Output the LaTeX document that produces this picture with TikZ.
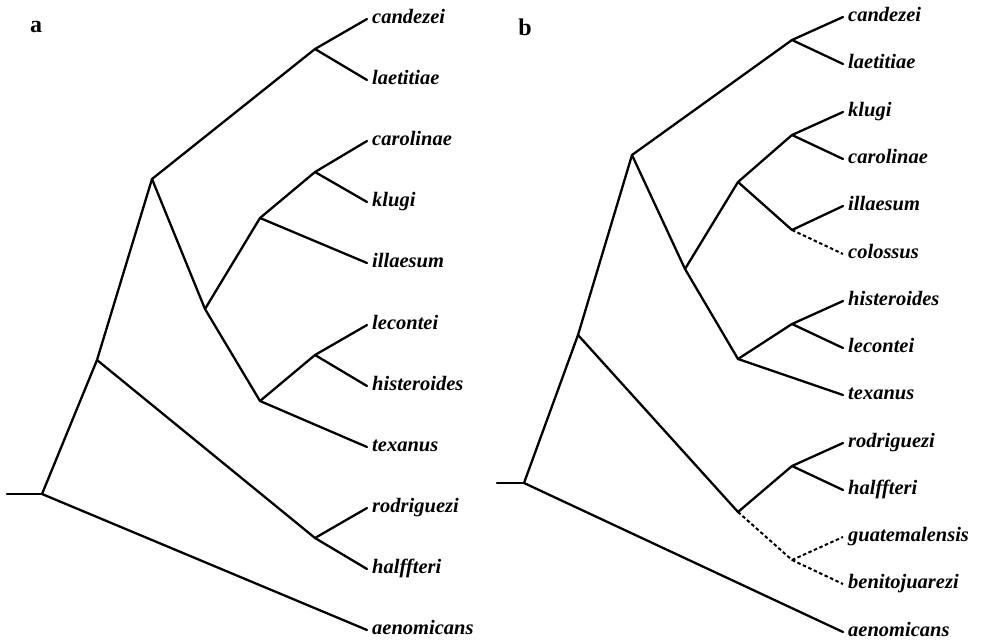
\documentclass[tikz,border=0pt]{standalone}
\usepackage{fontspec}
\setmainfont{Liberation Serif}
\begin{document}
\begin{tikzpicture}[x=1bp,y=-1bp,
  br/.style={line width=2.3bp, line cap=round, line join=round},
  dsh/.style={line width=2bp, dash pattern=on 3.5bp off 2.5bp},
  leaf/.style={anchor=base west, inner xsep=5bp, inner ysep=0pt, yshift=-4.7bp,
    font=\fontsize{20.5bp}{24bp}\selectfont\bfseries\itshape},
  plabel/.style={inner sep=0pt, font=\fontsize{24bp}{28bp}\selectfont\bfseries}]
\useasboundingbox (0,0) rectangle (981,644);
% ---------- panel a ----------
\node[plabel] (pa) at (36,27) {a};
\foreach \n/\y in {candezei/19, laetitiae/80, carolinae/141, klugi/202, illaesum/263,
  lecontei/325, histeroides/386, texanus/447, rodriguezi/508, halffteri/569, aenomicans/630}
  {\node[leaf] (a-\n) at (367,\y) {\n};}
\coordinate (a-s) at (7,494);
\coordinate (a-r) at (42,494);
\coordinate (a8) at (97,360);
\coordinate (a5) at (152,179);
\coordinate (a1) at (315,49);
\coordinate (a4) at (205,309);
\coordinate (a3) at (260,218);
\coordinate (a2) at (315,172);
\coordinate (a7) at (260,401);
\coordinate (a6) at (315,355);
\coordinate (a9) at (315,538);
\draw[br] (a-s) -- (a-r);
\draw[br] (a-r) -- (a8);
\draw[br] (a-r) -- ([yshift=4.7bp]a-aenomicans.base west);
\draw[br] (a8) -- (a5);
\draw[br] (a8) -- (a9);
\draw[br] (a5) -- (a1);
\draw[br] (a5) -- (a4);
\draw[br] (a1) -- ([yshift=4.7bp]a-candezei.base west);
\draw[br] (a1) -- ([yshift=4.7bp]a-laetitiae.base west);
\draw[br] (a4) -- (a3);
\draw[br] (a4) -- (a7);
\draw[br] (a3) -- (a2);
\draw[br] (a3) -- ([yshift=4.7bp]a-illaesum.base west);
\draw[br] (a2) -- ([yshift=4.7bp]a-carolinae.base west);
\draw[br] (a2) -- ([yshift=4.7bp]a-klugi.base west);
\draw[br] (a7) -- (a6);
\draw[br] (a7) -- ([yshift=4.7bp]a-texanus.base west);
\draw[br] (a6) -- ([yshift=4.7bp]a-lecontei.base west);
\draw[br] (a6) -- ([yshift=4.7bp]a-histeroides.base west);
\draw[br] (a9) -- ([yshift=4.7bp]a-rodriguezi.base west);
\draw[br] (a9) -- ([yshift=4.7bp]a-halffteri.base west);
% ---------- panel b ----------
\node[plabel] (pb) at (525,27) {b};
\foreach \n/\y in {candezei/17, laetitiae/64, klugi/112, carolinae/159, illaesum/206,
  colossus/254, histeroides/301, lecontei/348, texanus/395, rodriguezi/443, halffteri/490,
  guatemalensis/537, benitojuarezi/584, aenomicans/632}
  {\node[leaf] (b-\n) at (843,\y) {\n};}
\coordinate (b-s) at (497,483);
\coordinate (b-r) at (524,483);
\coordinate (b9) at (578,335);
\coordinate (b6) at (632,155);
\coordinate (b1) at (792,40);
\coordinate (b5) at (685,269);
\coordinate (b4) at (738,182);
\coordinate (b2) at (792,135);
\coordinate (b3) at (792,230);
\coordinate (b8) at (738,359);
\coordinate (b7) at (792,324);
\coordinate (b11) at (738,512);
\coordinate (b10) at (792,466);
\coordinate (b12) at (792,560);
\draw[br] (b-s) -- (b-r);
\draw[br] (b-r) -- (b9);
\draw[br] (b-r) -- ([yshift=4.7bp]b-aenomicans.base west);
\draw[br] (b9) -- (b6);
\draw[br] (b9) -- (b11);
\draw[br] (b6) -- (b1);
\draw[br] (b6) -- (b5);
\draw[br] (b1) -- ([yshift=4.7bp]b-candezei.base west);
\draw[br] (b1) -- ([yshift=4.7bp]b-laetitiae.base west);
\draw[br] (b5) -- (b4);
\draw[br] (b5) -- (b8);
\draw[br] (b4) -- (b2);
\draw[br] (b4) -- (b3);
\draw[br] (b2) -- ([yshift=4.7bp]b-klugi.base west);
\draw[br] (b2) -- ([yshift=4.7bp]b-carolinae.base west);
\draw[br] (b3) -- ([yshift=4.7bp]b-illaesum.base west);
\draw[dsh] (b3) -- ([yshift=4.7bp]b-colossus.base west);
\draw[br] (b8) -- (b7);
\draw[br] (b8) -- ([yshift=4.7bp]b-texanus.base west);
\draw[br] (b7) -- ([yshift=4.7bp]b-histeroides.base west);
\draw[br] (b7) -- ([yshift=4.7bp]b-lecontei.base west);
\draw[br] (b11) -- (b10);
\draw[dsh] (b11) -- (b12);
\draw[br] (b10) -- ([yshift=4.7bp]b-rodriguezi.base west);
\draw[br] (b10) -- ([yshift=4.7bp]b-halffteri.base west);
\draw[dsh] (b12) -- ([yshift=4.7bp]b-guatemalensis.base west);
\draw[dsh] (b12) -- ([yshift=4.7bp]b-benitojuarezi.base west);
\end{tikzpicture}
\end{document}
